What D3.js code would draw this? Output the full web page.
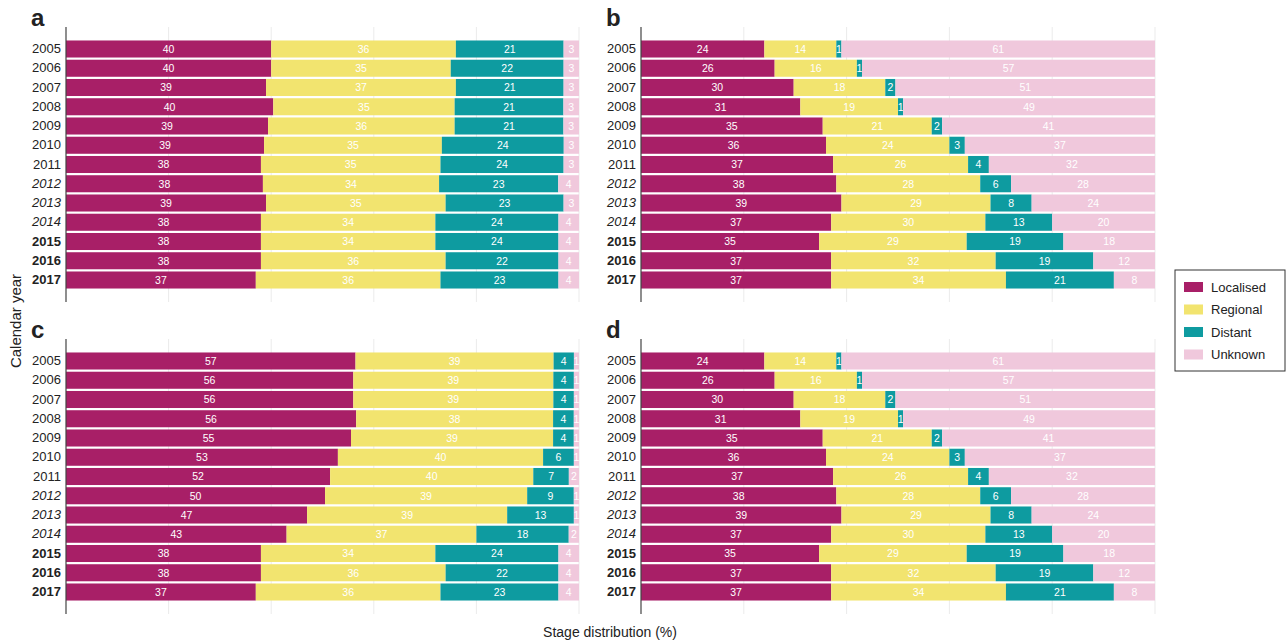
<!DOCTYPE html>
<html>
<head>
<meta charset="utf-8">
<script src="https://cdn.jsdelivr.net/npm/d3@7"></script>
<style>
  body { margin: 0; background: #fff; }
  svg { font-family: "Liberation Sans", Arial, Helvetica, sans-serif; }
</style>
</head>
<body>
<script>
const WIDTH = 1288;
const HEIGHT = 644;

// categories
const YEARS = [2005, 2006, 2007, 2008, 2009, 2010, 2011, 2012, 2013, 2014, 2015, 2016, 2017];
const ITALIC_YEARS = [2012, 2013, 2014];
const BOLD_YEARS = [2015, 2016, 2017];
const STAGES = ["Localised", "Regional", "Distant", "Unknown"];
const COLORS = ["#a81f67", "#f2e46f", "#0e9ba0", "#f0c8dc"];
const GRID_TICKS = [0, 20, 40, 60, 80, 100];

// panel a
const aLocalised = [40, 40, 39, 40, 39, 39, 38, 38, 39, 38, 38, 38, 37];
const aRegional  = [36, 35, 37, 35, 36, 35, 35, 34, 35, 34, 34, 36, 36];
const aDistant   = [21, 22, 21, 21, 21, 24, 24, 23, 23, 24, 24, 22, 23];
const aUnknown   = [3, 3, 3, 3, 3, 3, 3, 4, 3, 4, 4, 4, 4];

// panel b
const bLocalised = [24, 26, 30, 31, 35, 36, 37, 38, 39, 37, 35, 37, 37];
const bRegional  = [14, 16, 18, 19, 21, 24, 26, 28, 29, 30, 29, 32, 34];
const bDistant   = [1, 1, 2, 1, 2, 3, 4, 6, 8, 13, 19, 19, 21];
const bUnknown   = [61, 57, 51, 49, 41, 37, 32, 28, 24, 20, 18, 12, 8];

// panel c
const cLocalised = [57, 56, 56, 56, 55, 53, 52, 50, 47, 43, 38, 38, 37];
const cRegional  = [39, 39, 39, 38, 39, 40, 40, 39, 39, 37, 34, 36, 36];
const cDistant   = [4, 4, 4, 4, 4, 6, 7, 9, 13, 18, 24, 22, 23];
const cUnknown   = [1, 1, 1, 1, 1, 1, 2, 1, 1, 2, 4, 4, 4];

// panel d
const dLocalised = [24, 26, 30, 31, 35, 36, 37, 38, 39, 37, 35, 37, 37];
const dRegional  = [14, 16, 18, 19, 21, 24, 26, 28, 29, 30, 29, 32, 34];
const dDistant   = [1, 1, 2, 1, 2, 3, 4, 6, 8, 13, 19, 19, 21];
const dUnknown   = [61, 57, 51, 49, 41, 37, 32, 28, 24, 20, 18, 12, 8];

const PANELS = [
  {id: "a", x0: 66,  x1: 579,  y0: 27,  y1: 302, series: [aLocalised, aRegional, aDistant, aUnknown]},
  {id: "b", x0: 641, x1: 1155, y0: 27,  y1: 302, series: [bLocalised, bRegional, bDistant, bUnknown]},
  {id: "c", x0: 66,  x1: 579,  y0: 339, y1: 614, series: [cLocalised, cRegional, cDistant, cUnknown]},
  {id: "d", x0: 641, x1: 1155, y0: 339, y1: 614, series: [dLocalised, dRegional, dDistant, dUnknown]}
];

const svg = d3.select("body")
              .append("svg")
              .attr("width", WIDTH)
              .attr("height", HEIGHT);

const color = d3.scaleOrdinal().domain(STAGES).range(COLORS);

//build stacked rows, each row scaled to 100%
const stackRows = (series) => YEARS.map((year, i) => {
  const vals = series.map(s => s[i]);
  const total = d3.sum(vals);
  let acc = 0;
  return vals.map((v, k) => {
    const start = acc / total * 100;
    acc += v;
    return {year: year, stage: STAGES[k], value: v, start: start, end: acc / total * 100};
  });
});

const drawPanel = (p) => {
  const xScale = d3.scaleLinear().domain([0, 100]).range([p.x0, p.x1]);
  const yScale = d3.scaleBand()
                   .domain(YEARS)
                   .range([p.y0, p.y1])
                   .paddingInner(0.115)
                   .paddingOuter(0.7);

  const g = svg.append("g").attr("class", "panel-" + p.id);

  //grid
  g.append("g")
   .selectAll("line")
   .data(GRID_TICKS.slice(1))
   .enter()
   .append("line")
   .attr("x1", d => xScale(d))
   .attr("x2", d => xScale(d))
   .attr("y1", p.y0)
   .attr("y2", p.y1)
   .attr("stroke", "#ebebeb")
   .attr("stroke-width", 1);

  const rows = stackRows(p.series);

  const cells = g.append("g")
                 .selectAll("g")
                 .data(rows.flat())
                 .enter()
                 .append("g");

  cells.append("rect")
       .attr("x", d => xScale(d.start))
       .attr("y", d => yScale(d.year))
       .attr("width", d => xScale(d.end) - xScale(d.start))
       .attr("height", yScale.bandwidth())
       .attr("fill", d => color(d.stage));

  cells.append("text")
       .attr("x", d => xScale((d.start + d.end) / 2))
       .attr("y", d => yScale(d.year) + yScale.bandwidth() / 2)
       .attr("dy", "0.36em")
       .attr("text-anchor", "middle")
       .attr("font-size", "10.5px")
       .attr("fill", "#fff")
       .text(d => d.value);

  //y axis
  const yAxis = d3.axisLeft(yScale).tickSize(0).tickPadding(5);
  const ax = g.append("g")
              .attr("transform", "translate(" + p.x0 + ",0)")
              .call(yAxis);
  ax.select(".domain")
    .attr("d", "M0," + p.y0 + "V" + p.y1)
    .attr("stroke", "#444")
    .attr("stroke-width", 1.2);
  ax.selectAll("text")
    .attr("font-size", "13px")
    .attr("fill", "#222")
    .attr("font-family", "'Liberation Sans', Arial, sans-serif")
    .attr("font-style", d => ITALIC_YEARS.includes(d) ? "italic" : "normal")
    .attr("font-weight", d => BOLD_YEARS.includes(d) ? "bold" : "normal");

  //panel letter
  svg.append("text")
     .attr("x", p.x0 - 35)
     .attr("y", p.y0 - 1)
     .attr("font-size", "24px")
     .attr("font-weight", "bold")
     .attr("fill", "#222")
     .text(p.id);
};

PANELS.forEach(drawPanel);

//axis titles
svg.append("text")
   .attr("x", 610)
   .attr("y", 637)
   .attr("text-anchor", "middle")
   .attr("font-size", "14px")
   .attr("fill", "#222")
   .text("Stage distribution (%)");

svg.append("text")
   .attr("transform", "translate(21, 321) rotate(-90)")
   .attr("text-anchor", "middle")
   .attr("font-size", "15px")
   .attr("fill", "#222")
   .text("Calendar year");

//legend
const legend = svg.append("g").attr("transform", "translate(1175, 270)");
legend.append("rect")
      .attr("width", 110)
      .attr("height", 101)
      .attr("fill", "#fff")
      .attr("stroke", "#333")
      .attr("stroke-width", 1);

const items = legend.selectAll("g.item")
                    .data(STAGES)
                    .enter()
                    .append("g")
                    .attr("class", "item")
                    .attr("transform", (d, i) => "translate(9, " + (12 + i * 22.5) + ")");
items.append("rect")
     .attr("width", 19)
     .attr("height", 10)
     .attr("fill", d => color(d));
items.append("text")
     .attr("x", 27)
     .attr("y", 5)
     .attr("dy", "0.36em")
     .attr("font-size", "13px")
     .attr("fill", "#222")
     .text(d => d);
</script>
</body>
</html>
